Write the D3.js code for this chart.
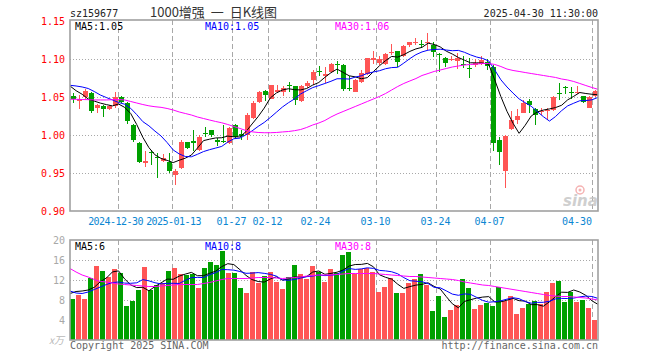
<!DOCTYPE html>
<html><head><meta charset="utf-8">
<script src="https://cdn.jsdelivr.net/npm/d3@7"></script>
<style>
html,body{margin:0;padding:0;background:#fff;}
svg{display:block;}
</style></head><body>
<svg id="chart" width="660" height="360"></svg>
<script>
const dates = ["2024-12-18","2024-12-19","2024-12-20","2024-12-23","2024-12-24","2024-12-25","2024-12-26","2024-12-27","2024-12-30","2024-12-31",
"2025-01-02","2025-01-03","2025-01-06","2025-01-07","2025-01-08","2025-01-09","2025-01-10","2025-01-13","2025-01-14","2025-01-15",
"2025-01-16","2025-01-17","2025-01-20","2025-01-21","2025-01-22","2025-01-23","2025-01-24","2025-01-27","2025-02-05","2025-02-06",
"2025-02-07","2025-02-10","2025-02-11","2025-02-12","2025-02-13","2025-02-14","2025-02-17","2025-02-18","2025-02-19","2025-02-20",
"2025-02-21","2025-02-24","2025-02-25","2025-02-26","2025-02-27","2025-02-28","2025-03-03","2025-03-04","2025-03-05","2025-03-06",
"2025-03-07","2025-03-10","2025-03-11","2025-03-12","2025-03-13","2025-03-14","2025-03-17","2025-03-18","2025-03-19","2025-03-20",
"2025-03-21","2025-03-24","2025-03-25","2025-03-26","2025-03-27","2025-03-28","2025-03-31","2025-04-01","2025-04-02","2025-04-03",
"2025-04-07","2025-04-08","2025-04-09","2025-04-10","2025-04-11","2025-04-14","2025-04-15","2025-04-16","2025-04-17","2025-04-18",
"2025-04-21","2025-04-22","2025-04-23","2025-04-24","2025-04-25","2025-04-28","2025-04-29","2025-04-30"];

const open = [1.051,1.045,1.050,1.055,1.036,1.038,1.034,1.038,1.050,1.042,
1.013,0.989,0.963,0.977,0.971,0.966,0.964,0.947,0.956,0.991,
0.992,0.980,1.002,1.007,0.994,0.992,0.990,1.013,1.001,1.000,
1.022,1.044,1.058,1.048,1.056,1.057,1.066,1.064,1.045,1.064,
1.072,1.084,1.078,1.083,1.094,1.092,1.062,1.057,1.070,1.080,
1.099,1.095,1.093,1.108,1.110,1.104,1.118,1.122,1.120,1.122,
1.118,1.106,1.101,1.099,1.097,1.093,1.088,1.092,1.094,1.096,
1.090,0.994,0.952,1.008,1.020,1.029,1.045,1.034,1.030,1.031,
1.033,1.055,1.063,1.056,1.056,1.051,1.036,1.051];
const close = [1.047,1.048,1.058,1.031,1.039,1.034,1.038,1.050,1.043,1.018,
0.993,0.965,0.966,0.976,0.970,0.970,0.952,0.952,0.991,0.983,
0.990,0.998,1.001,1.000,0.991,0.991,1.009,0.997,0.999,1.026,
1.042,1.057,1.053,1.066,1.059,1.062,1.065,1.046,1.064,1.069,
1.083,1.083,1.080,1.094,1.093,1.061,1.061,1.073,1.082,1.101,
1.101,1.100,1.107,1.109,1.096,1.117,1.122,1.123,1.119,1.123,
1.109,1.105,1.095,1.100,1.101,1.092,1.087,1.095,1.099,1.091,
0.989,0.978,0.999,1.020,1.025,1.042,1.039,1.026,1.031,1.033,
1.050,1.054,1.062,1.055,1.057,1.044,1.050,1.058];
const high = [1.055,1.053,1.061,1.057,1.041,1.039,1.040,1.057,1.051,1.043,
1.014,0.991,0.979,0.980,0.976,0.975,0.976,0.955,0.993,0.991,
1.006,1.000,1.010,1.007,0.996,1.013,1.010,1.014,1.006,1.029,
1.045,1.058,1.059,1.066,1.066,1.064,1.070,1.065,1.066,1.071,
1.085,1.091,1.090,1.095,1.098,1.093,1.077,1.074,1.085,1.101,
1.110,1.104,1.108,1.120,1.110,1.118,1.122,1.127,1.125,1.134,
1.122,1.108,1.102,1.104,1.108,1.104,1.101,1.100,1.104,1.100,
1.092,0.998,1.000,1.031,1.034,1.046,1.047,1.036,1.036,1.035,
1.051,1.069,1.064,1.063,1.064,1.051,1.051,1.059];
const low = [1.042,1.034,1.047,1.029,1.029,1.024,1.033,1.036,1.042,1.014,
0.991,0.963,0.958,0.960,0.944,0.965,0.950,0.934,0.955,0.982,
0.979,0.979,0.998,0.997,0.985,0.989,0.988,0.995,0.993,0.993,
1.021,1.042,1.045,1.047,1.055,1.051,1.057,1.040,1.044,1.062,
1.066,1.078,1.068,1.082,1.080,1.058,1.058,1.056,1.068,1.079,
1.094,1.092,1.092,1.105,1.090,1.103,1.116,1.118,1.116,1.112,
1.103,1.083,1.090,1.098,1.087,1.088,1.075,1.089,1.092,1.086,
0.979,0.960,0.930,1.007,1.015,1.029,1.029,1.013,1.026,1.020,
1.032,1.046,1.054,1.047,1.054,1.042,1.035,1.050];

const ma5 = [1.0645,1.0583,1.0536,1.0474,1.0446,1.0420,1.0400,1.0383,1.0408,1.0364,
1.0283,1.0137,0.9970,0.9834,0.9739,0.9692,0.9666,0.9637,0.9668,0.9695,
0.9736,0.9828,0.9926,0.9945,0.9961,0.9964,0.9986,0.9976,0.9975,1.0045,
1.0145,1.0242,1.0354,1.0487,1.0553,1.0592,1.0609,1.0596,1.0593,1.0612,
1.0657,1.0691,1.0759,1.0820,1.0867,1.0824,1.0779,1.0765,1.0740,1.0755,
1.0834,1.0912,1.0979,1.1034,1.1025,1.1057,1.1100,1.1133,1.1153,1.1208,
1.1192,1.1159,1.1103,1.1065,1.1020,1.0984,1.0950,1.0950,1.0947,1.0928,
1.0722,1.0504,1.0312,1.0154,1.0022,1.0128,1.0250,1.0304,1.0328,1.0343,
1.0361,1.0391,1.0462,1.0509,1.0559,1.0546,1.0536,1.0529];
const ma10 = [1.0654,1.0645,1.0632,1.0612,1.0572,1.0526,1.0493,1.0461,1.0428,1.0405,
1.0351,1.0268,1.0176,1.0121,1.0051,0.9987,0.9901,0.9803,0.9751,0.9717,
0.9713,0.9746,0.9782,0.9807,0.9828,0.9850,0.9907,0.9951,0.9959,1.0003,
1.0054,1.0113,1.0165,1.0230,1.0299,1.0368,1.0425,1.0475,1.0540,1.0583,
1.0624,1.0650,1.0678,1.0707,1.0740,1.0740,1.0736,1.0762,1.0779,1.0811,
1.0829,1.0846,1.0872,1.0887,1.0891,1.0946,1.1005,1.1057,1.1093,1.1116,
1.1125,1.1129,1.1118,1.1109,1.1113,1.1088,1.1054,1.1026,1.1007,1.0974,
1.0854,1.0726,1.0632,1.0551,1.0475,1.0425,1.0378,1.0308,1.0241,1.0183,
1.0243,1.0320,1.0383,1.0418,1.0451,1.0453,1.0463,1.0495];
const ma30 = [1.0470,1.0470,1.0467,1.0465,1.0461,1.0461,1.0461,1.0465,1.0467,1.0461,
1.0441,1.0421,1.0401,1.0384,1.0372,1.0364,1.0349,1.0329,1.0303,1.0283,
1.0263,1.0237,1.0217,1.0197,1.0178,1.0161,1.0138,1.0112,1.0086,1.0059,
1.0042,1.0033,1.0030,1.0030,1.0033,1.0040,1.0046,1.0057,1.0072,1.0099,
1.0132,1.0158,1.0191,1.0237,1.0276,1.0309,1.0342,1.0375,1.0408,1.0441,
1.0474,1.0507,1.0546,1.0592,1.0638,1.0678,1.0711,1.0743,1.0783,1.0809,
1.0836,1.0855,1.0875,1.0895,1.0908,1.0921,1.0928,1.0934,1.0941,1.0941,
1.0928,1.0901,1.0868,1.0849,1.0836,1.0822,1.0809,1.0796,1.0783,1.0770,
1.0757,1.0737,1.0724,1.0704,1.0678,1.0651,1.0625,1.0601];

const volume = [8.2,9.0,8.2,12.5,14.8,13.8,12.7,14.3,13.5,6.8,
7.8,10.0,14.6,10.0,11.0,11.5,13.8,14.4,13.2,13.0,
13.2,10.5,14.4,15.6,15.1,17.8,13.4,13.5,10.5,9.4,
13.6,11.5,12.9,13.6,11.6,10.3,12.6,15.0,13.3,12.3,
14.8,13.6,11.7,14.2,13.5,17.0,17.6,13.2,14.3,14.5,
13.6,9.6,10.7,12.5,9.4,9.4,11.4,12.2,13.2,11.0,
5.8,8.8,4.6,6.0,7.0,12.2,10.5,6.2,7.0,7.5,
6.8,10.7,7.8,8.8,5.2,6.4,7.2,7.8,7.2,9.6,
11.4,11.8,7.6,9.6,7.6,8.0,6.4,4.0];
const vma5 = [9.3,9.7,9.8,10.0,10.54,11.66,12.4,13.62,13.82,12.22,
11.02,10.48,10.54,9.84,10.68,11.42,12.18,12.14,12.78,13.18,
13.52,12.86,12.86,13.34,13.76,14.68,15.26,15.08,14.06,12.92,
12.08,11.7,11.58,12.2,12.64,11.98,12.2,12.62,12.56,12.7,
13.6,13.8,13.14,13.32,13.56,14.0,14.8,15.1,15.12,15.32,
14.64,13.04,12.54,12.18,11.16,10.32,10.68,10.98,11.12,11.44,
10.72,10.2,8.68,7.24,6.44,7.72,8.06,8.38,8.58,8.68,
7.6,7.64,7.96,8.32,7.86,7.78,7.08,7.08,6.76,7.64,
8.64,9.56,9.52,10.0,9.6,8.92,7.84,7.12];
const vma10 = [9.8,9.4,9.3,9.6,10.1,10.6,11.1,11.5,11.6,11.38,
11.34,11.44,12.08,11.83,11.45,11.22,11.33,11.34,11.31,11.93,
12.47,12.52,12.5,13.06,13.47,14.1,14.06,13.97,13.7,13.34,
13.38,13.48,13.33,13.13,12.78,12.03,11.95,12.1,12.38,12.67,
12.79,13.0,12.88,12.94,13.13,13.8,14.3,14.12,14.22,14.44,
14.32,13.92,13.82,13.65,13.24,12.48,11.86,11.76,11.65,11.3,
10.52,10.44,9.83,9.18,8.94,9.22,9.13,8.53,7.91,7.56,
7.66,7.85,8.17,8.45,8.27,7.69,7.36,7.52,7.54,7.75,
8.21,8.32,8.3,8.38,8.62,8.78,8.7,8.32];
const vma30 = [14.3,13.6,13.0,12.6,12.1,11.7,11.6,11.4,11.2,11.1,
11.0,10.9,10.8,10.7,10.7,10.8,10.9,11.0,11.1,11.1,
11.1,11.1,11.3,11.5,11.8,12.1,12.3,12.3,12.3,12.3,
12.4,12.5,12.5,12.5,12.4,12.3,12.4,12.5,12.6,12.8,
12.9,13.0,13.0,13.0,13.1,13.2,13.3,13.3,13.3,13.3,
13.3,13.2,13.1,13.0,12.9,12.8,12.7,12.7,12.6,12.5,
12.4,12.3,12.2,12.1,11.9,11.6,11.4,11.2,11.0,10.9,
10.7,10.5,10.3,10.1,9.9,9.7,9.5,9.3,9.1,8.9,
8.8,8.7,8.7,8.6,8.5,8.4,8.2,8.0];

const tickDates = ["2024-12-30","2025-01-13","2025-01-27","2025-02-12","2025-02-24","2025-03-10","2025-03-24","2025-04-07","2025-04-30"];
const tickLabels = ["2024-12-30","2025-01-13","01-27","02-12","02-24","03-10","03-24","04-07","04-30"];
const priceTicks = [0.90,0.95,1.00,1.05,1.10,1.15];
const volTicks = [4,8,12,16,20];
const maNames = ["MA5","MA10","MA30"];
const priceMaLabels = ["1.05","1.05","1.06"];
const volMaLabels = ["6","8","8"];

const UP = "#ff5555", DOWN = "#00a000";
const MA_COLORS = ["#000000","#0000ff","#ff00ff"];
const MONO = "'DejaVu Sans Mono', monospace";

const svg = d3.select("#chart");
svg.append("rect").attr("width",660).attr("height",360).attr("fill","#fff");

const L = 70, R = 598;
const x = d3.scaleBand().domain(dates).range([L, R]).padding(0);
const xi = d3.scaleLinear().domain([0, dates.length - 1]).range([L, R]);
const y = d3.scaleLinear().domain([0.90, 1.15]).range([211, 21]);
const yv = d3.scaleLinear().domain([0, 20]).range([340, 240]);

// gridlines
const grid = svg.append("g").attr("stroke","#a8a8a8").attr("stroke-dasharray","1,2").attr("shape-rendering","crispEdges");
[0.95,1.00,1.05,1.10].forEach(v => grid.append("line").attr("x1",L).attr("x2",R)
  .attr("y1",Math.round(y(v))+0.5).attr("y2",Math.round(y(v))+0.5));
[4,8,12,16].forEach(v => grid.append("line").attr("x1",L).attr("x2",R)
  .attr("y1",Math.round(yv(v))+0.5).attr("y2",Math.round(yv(v))+0.5));

// dashed verticals
const vg = svg.append("g").attr("stroke","#a8a8a8").attr("stroke-dasharray","5,3").attr("shape-rendering","crispEdges");
tickDates.forEach(d => {
  const xx = x(d) + 0.5;
  vg.append("line").attr("x1",xx).attr("x2",xx).attr("y1",20).attr("y2",211);
  vg.append("line").attr("x1",xx).attr("x2",xx).attr("y1",240).attr("y2",340);
});

// candles
const isUp = i => close[i] >= open[i];
const cg = svg.append("g").attr("shape-rendering","crispEdges");
dates.forEach((d, i) => {
  const col = isUp(i) ? UP : DOWN;
  const cx = x(d) + 3.5;
  cg.append("line").attr("x1",cx).attr("x2",cx).attr("y1",y(high[i])).attr("y2",y(low[i])).attr("stroke",col);
  const top = y(Math.max(open[i], close[i])), bot = y(Math.min(open[i], close[i]));
  cg.append("rect").attr("x",x(d)+1).attr("width",x.bandwidth()-1)
    .attr("y",top).attr("height",Math.max(1, bot-top)).attr("fill",col);
});

// price MA lines
[ma5, ma10, ma30].forEach((arr, k) => {
  svg.append("path").datum(arr).attr("fill","none").attr("stroke",MA_COLORS[k]).attr("stroke-width",1)
    .attr("d", d3.line().x((v,i)=>xi(i)).y(v=>y(v)));
});

// volume bars
const vbg = svg.append("g").attr("shape-rendering","crispEdges");
dates.forEach((d, i) => {
  vbg.append("rect").attr("x",x(d)).attr("width",x.bandwidth()-1)
    .attr("y",yv(volume[i])).attr("height",yv(0)-yv(volume[i]))
    .attr("fill", isUp(i) ? UP : DOWN);
});
[vma5, vma10, vma30].forEach((arr, k) => {
  svg.append("path").datum(arr).attr("fill","none").attr("stroke",MA_COLORS[k]).attr("stroke-width",1)
    .attr("d", d3.line().x((v,i)=>xi(i)).y(v=>yv(v)));
});

// borders
svg.append("rect").attr("x",L).attr("y",20).attr("width",R-L).attr("height",191)
  .attr("fill","none").attr("stroke","#a0a0a0").attr("stroke-width",1.6);
svg.append("rect").attr("x",L).attr("y",240).attr("width",R-L).attr("height",100)
  .attr("fill","none").attr("stroke","#a0a0a0").attr("stroke-width",1.6);

// axes
const ya = svg.append("g").attr("transform",`translate(${L},0)`)
  .call(d3.axisLeft(y).tickValues(priceTicks).tickFormat(d3.format(".2f")).tickSize(0).tickPadding(5));
ya.select(".domain").remove();
ya.selectAll("text").attr("fill","#ff0000").style("font-family",MONO).style("font-size","10px");

const va = svg.append("g").attr("transform",`translate(${L},0)`)
  .call(d3.axisLeft(yv).tickValues(volTicks).tickFormat(d3.format("d")).tickSize(0).tickPadding(5));
va.select(".domain").remove();
va.selectAll("text").attr("fill","#a8a8a8").style("font-family",MONO).style("font-size","10px");

// x labels (the first two sit very close together, as in the reference)
const labelShift = [-2, 2, 0, 0, 0, 0, 0, 0, 0];
tickDates.forEach((d, k) => {
  const last = k === tickDates.length - 1;
  const t = svg.append("text").attr("x", x(d) + (last ? 0 : -0.5 + labelShift[k])).attr("y", 225)
    .attr("text-anchor", last ? "end" : "middle")
    .attr("fill","#0a86d2").style("font-family",MONO).style("font-size","10px")
    .text(tickLabels[k]);
  if (k < 2) t.style("letter-spacing","-0.55px");
});

// MA labels
const maX = [75, 205, 335];
maNames.forEach((n, k) => {
  svg.append("text").attr("x",maX[k]).attr("y",30).attr("fill",MA_COLORS[k])
    .style("font-family",MONO).style("font-size","10px").text(n + ":" + priceMaLabels[k]);
  svg.append("text").attr("x",maX[k]).attr("y",250).attr("fill",MA_COLORS[k])
    .style("font-family",MONO).style("font-size","10px").text(n + ":" + volMaLabels[k]);
});

// header
svg.append("text").attr("x",70).attr("y",16.5).attr("fill","#222")
  .style("font-family",MONO).style("font-size","10px").text("sz159677");
svg.append("text").attr("x",150).attr("y",17).attr("fill","#333")
  .style("font-family","'Noto Sans CJK SC', sans-serif").style("font-size","13px")
  .style("word-spacing","3px").text("1000增强 一 日K线图");
svg.append("text").attr("x",598).attr("y",16.5).attr("text-anchor","end").attr("fill","#222")
  .style("font-family",MONO).style("font-size","10px").text("2025-04-30 11:30:00");

// footer
svg.append("text").attr("x",70).attr("y",349).attr("fill","#666")
  .style("font-family",MONO).style("font-size","10px").text("Copyright 2025 SINA.COM");
svg.append("text").attr("x",598).attr("y",349).attr("text-anchor","end").attr("fill","#666")
  .style("font-family",MONO).style("font-size","10px").text("http://finance.sina.com.cn");
svg.append("text").attr("x",49).attr("y",344).attr("fill","#b8b8b8")
  .style("font-family","'Noto Sans CJK SC', sans-serif").style("font-size","10px").style("font-style","italic").text("x万");

// sina watermark
const wm = svg.append("g").attr("opacity",0.8);
wm.append("circle").attr("cx",580).attr("cy",190).attr("r",4).attr("fill","none").attr("stroke","#f3a0a0").attr("stroke-width",1.5);
wm.append("circle").attr("cx",580).attr("cy",190).attr("r",1.5).attr("fill","#f3a0a0");
wm.append("text").attr("x",563).attr("y",206).attr("fill","#c4c4c4")
  .style("font-family","'DejaVu Sans', sans-serif").style("font-size","15px").style("font-weight","bold").style("font-style","italic").text("sina");
</script>
</body></html>
